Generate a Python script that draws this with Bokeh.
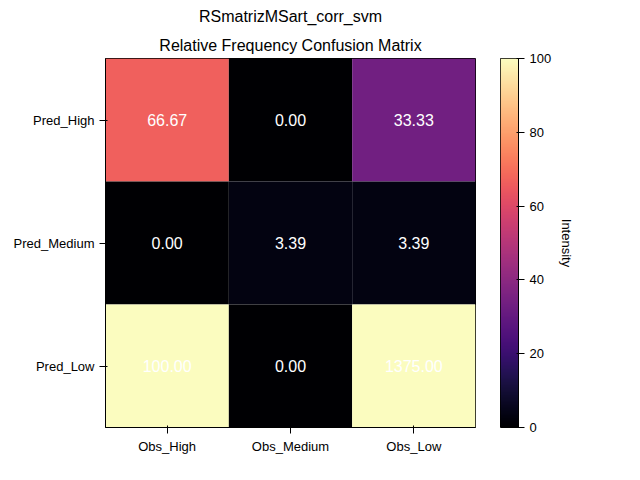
import numpy as np
from bokeh.plotting import figure
from bokeh.layouts import row
from bokeh.models import ColumnDataSource, LinearColorMapper, Title, FactorRange, FixedTicker
from bokeh.palettes import Magma256
from bokeh.embed import file_html
from bokeh.resources import INLINE

obs = ["Obs_High", "Obs_Medium", "Obs_Low"]
pred = ["Pred_High", "Pred_Medium", "Pred_Low"]
values = [
    [66.67, 0.00, 33.33],
    [0.00, 3.39, 3.39],
    [100.00, 0.00, 1375.00],
]

xs, ys, vs, labels = [], [], [], []
for i, pr in enumerate(pred):
    for j, ob in enumerate(obs):
        xs.append(ob)
        ys.append(pr)
        vs.append(values[i][j])
        labels.append("%.2f" % values[i][j])
src = ColumnDataSource(dict(x=xs, y=ys, v=vs, label=labels))

mapper = LinearColorMapper(palette=Magma256, low=0, high=100,
                           high_color=Magma256[-1], low_color=Magma256[0])

p = figure(width=486, height=472, x_range=FactorRange(*obs),
           y_range=FactorRange(*pred[::-1]), output_backend="svg",
           toolbar_location=None, min_border_left=105, min_border_right=11,
           min_border_top=50, min_border_bottom=45)
p.rect("x", "y", 1, 1, source=src, fill_color={"field": "v", "transform": mapper},
       line_color=None)
p.text("x", "y", text="label", source=src, text_color="white", text_align="center",
       text_baseline="middle", text_font_size="16px")

p.title.text = "RSmatrizMSart_corr_svm"
p.title.align = "center"
p.title.text_font_size = "16px"
p.title.text_font_style = "normal"
p.title.text_color = "black"
p.add_layout(Title(text="Relative Frequency Confusion Matrix", align="center",
                   text_font_size="16px", text_font_style="normal",
                   text_color="black"), "above")
p.grid.visible = False
p.axis.major_label_text_font_size = "13px"
p.axis.major_label_text_color = "black"
p.axis.axis_line_color = "black"
p.axis.major_tick_line_color = "black"
p.outline_line_color = "black"
p.x_range.range_padding = 0
p.y_range.range_padding = 0

# colorbar as a small figure
cb = figure(width=138, height=472, x_range=(0, 1), y_range=(0, 100),
            output_backend="svg", toolbar_location=None, y_axis_location="right",
            min_border_left=14, min_border_right=106, min_border_top=50,
            min_border_bottom=45)
grad = np.linspace(0, 100, 256).reshape(256, 1)
cb.image(image=[grad], x=0, y=0, dw=1, dh=100, color_mapper=mapper)
cb.xaxis.visible = False
cb.grid.visible = False
cb.yaxis.ticker = FixedTicker(ticks=[0, 20, 40, 60, 80, 100])
cb.yaxis.axis_label = "Intensity"
cb.yaxis.axis_label_text_font_style = "normal"
cb.yaxis.axis_label_text_font_size = "13px"
cb.yaxis.axis_label_text_color = "black"
cb.yaxis.major_label_text_font_size = "13px"
cb.yaxis.major_label_text_color = "black"
cb.yaxis.minor_tick_line_color = None
cb.outline_line_color = "black"

layout = row(p, cb)
open("out.html", "w").write(file_html(layout, INLINE))
